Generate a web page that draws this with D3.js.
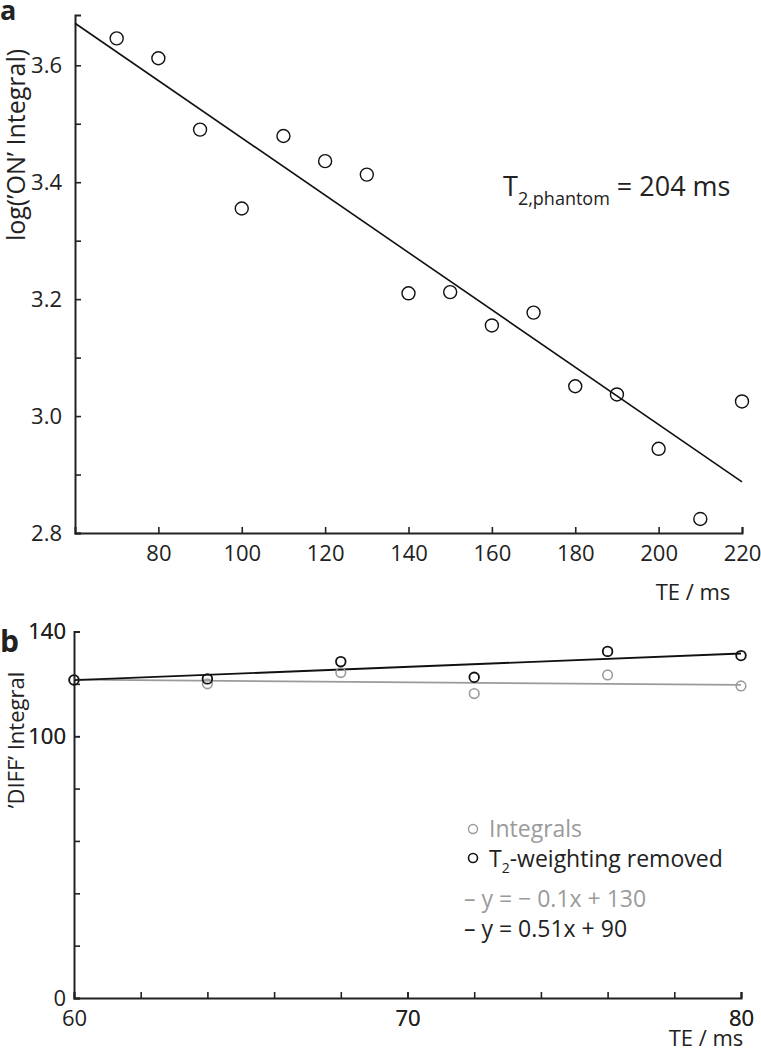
<!DOCTYPE html>
<html>
<head>
<meta charset="utf-8">
<script src="https://cdn.jsdelivr.net/npm/d3@7"></script>
<style>
  body { margin: 0; background: #fff; }
  text { font-family: "Open Sans", sans-serif; fill: #222; }
</style>
</head>
<body>
<svg id="fig" width="761" height="1050"></svg>
<script>

// panel a : log of 'ON' integral vs echo time
var teA = [70, 80, 90, 100, 110, 120, 130, 140, 150, 160, 170, 180, 190, 200, 210, 220]
var logOn = [3.646, 3.612, 3.490, 3.355, 3.479, 3.436, 3.413, 3.210, 3.212, 3.155, 3.177, 3.051, 3.037, 2.944, 2.824, 3.025]
var t2Phantom = 204          // ms, slope of the fit is -1/T2
var logIntercept = 3.966     // value of the fit at TE = 0
var ticksA_x = [80, 100, 120, 140, 160, 180, 200, 220]
var ticksA_y = [2.8, 2.9, 3.0, 3.1, 3.2, 3.3, 3.4, 3.5, 3.6]
var labelsA_y = [2.8, 3.0, 3.2, 3.4, 3.6]

// panel b : 'DIFF' integral vs echo time
var teB = [60, 64, 68, 72, 76, 80]
var diffIntegrals = [121.5, 120.0, 124.3, 116.3, 123.4, 119.2]
var diffCorrected = [121.5, 121.9, 128.5, 122.5, 132.4, 130.8]
var fitIntegrals = [-0.1, 127.6]   // slope, intercept
var fitCorrected = [0.51, 90.8]
var ticksB_x = [62, 64, 66, 68, 70, 72, 74, 76, 78, 80]
var labelsB_x = [60, 70, 80]
var ticksB_y = [20, 40, 60, 80, 100, 120, 140]
var labelsB_y = [0, 100, 140]

var grey = "#9b9b9b"
var dark = "#222"

var svg = d3.select("#fig")

// ---------- panel a ----------
var xA = d3.scaleLinear().domain([60, 220]).range([75, 742])
var yA = d3.scaleLinear().domain([2.8, 3.686]).range([533, 15])

var gA = svg.append("g")

gA.append("g")
    .attr("transform", "translate(0," + yA(2.8) + ")")
    .call(d3.axisBottom(xA).tickValues(ticksA_x).tickSizeInner(-6).tickSizeOuter(-6).tickPadding(12)
        .tickFormat(d3.format("d")))

gA.append("g")
    .attr("transform", "translate(" + xA(60) + ",0)")
    .call(d3.axisLeft(yA).tickValues(ticksA_y).tickSizeInner(-6).tickSizeOuter(-6).tickPadding(13)
        .tickFormat(function(d) {
            return labelsA_y.some(function(v) { return Math.abs(v - d) < 1e-6 }) ? d3.format(".1f")(d) : ""
        }))

// fit line
var fitA = d3.line()
    .x(function(d) { return xA(d) })
    .y(function(d) { return yA(logIntercept - d / t2Phantom) })
gA.append("path")
    .datum([60, 220])
    .attr("d", fitA)
    .attr("fill", "none")
    .attr("stroke", "#111")
    .attr("stroke-width", 1.6)

gA.selectAll(".ptA")
    .data(teA).enter()
    .append("circle")
    .attr("cx", function(d) { return xA(d) })
    .attr("cy", function(d, i) { return yA(logOn[i]) })
    .attr("r", 6.5)
    .attr("fill", "none")
    .attr("stroke", "#111")
    .attr("stroke-width", 1.4)

gA.append("text")
    .attr("transform", "translate(25,145) rotate(-90)")
    .attr("text-anchor", "middle")
    .style("font-size", "25px")
    .text("log(\u2019ON\u2019 Integral)")

gA.append("text")
    .attr("x", 693).attr("y", 600)
    .attr("text-anchor", "middle")
    .style("font-size", "22px")
    .text("TE / ms")

var t2 = gA.append("text")
    .attr("x", 503).attr("y", 196)
    .style("font-size", "27px")
t2.append("tspan").text("T")
t2.append("tspan").attr("dy", 9).style("font-size", "18px").text("2,phantom")
t2.append("tspan").attr("dy", -9).text(" = 204 ms")

gA.append("text")
    .attr("x", 0).attr("y", 20)
    .style("font-size", "27px").style("font-weight", "bold")
    .text("a")

// ---------- panel b ----------
var xB = d3.scaleLinear().domain([60, 80]).range([74, 741])
var yB = d3.scaleLinear().domain([0, 140]).range([998, 631.5])

var gB = svg.append("g")

gB.append("g")
    .attr("transform", "translate(0," + yB(0) + ")")
    .call(d3.axisBottom(xB).tickValues(labelsB_x.concat(ticksB_x)).tickSizeInner(-6).tickSizeOuter(-6).tickPadding(12)
        .tickFormat(function(d) { return labelsB_x.indexOf(d) >= 0 ? d : "" }))

gB.append("g")
    .attr("transform", "translate(" + xB(60) + ",0)")
    .call(d3.axisLeft(yB).tickValues(labelsB_y.concat(ticksB_y)).tickSizeInner(-6).tickSizeOuter(-6).tickPadding(8)
        .tickFormat(function(d) { return labelsB_y.indexOf(d) >= 0 ? d : "" }))

function fitLine(p) {
    return d3.line()
        .x(function(d) { return xB(d) })
        .y(function(d) { return yB(p[0] * d + p[1]) })
}

gB.append("path")
    .datum([60, 80])
    .attr("d", fitLine(fitIntegrals))
    .attr("fill", "none").attr("stroke", grey).attr("stroke-width", 1.6)

gB.append("path")
    .datum([60, 80])
    .attr("d", fitLine(fitCorrected))
    .attr("fill", "none").attr("stroke", "#111").attr("stroke-width", 1.8)

gB.selectAll(".ptGrey")
    .data(teB).enter()
    .append("circle")
    .attr("cx", function(d) { return xB(d) })
    .attr("cy", function(d, i) { return yB(diffIntegrals[i]) })
    .attr("r", 4.8)
    .attr("fill", "none").attr("stroke", grey).attr("stroke-width", 1.6)

gB.selectAll(".ptDark")
    .data(teB).enter()
    .append("circle")
    .attr("cx", function(d) { return xB(d) })
    .attr("cy", function(d, i) { return yB(diffCorrected[i]) })
    .attr("r", 4.8)
    .attr("fill", "none").attr("stroke", "#111").attr("stroke-width", 1.8)

// legend
var lg = gB.append("g")
lg.append("circle").attr("cx", 473).attr("cy", 829).attr("r", 4.5)
    .attr("fill", "none").attr("stroke", grey).attr("stroke-width", 1.4)
lg.append("text").attr("x", 489).attr("y", 837).style("font-size", "23px").style("fill", grey)
    .text("Integrals")
lg.append("circle").attr("cx", 473).attr("cy", 858).attr("r", 4.5)
    .attr("fill", "none").attr("stroke", "#111").attr("stroke-width", 1.6)
var lt = lg.append("text").attr("x", 489).attr("y", 867).style("font-size", "23px")
lt.append("tspan").text("T")
lt.append("tspan").attr("dy", 6).style("font-size", "14px").text("2")
lt.append("tspan").attr("dy", -6).text("-weighting removed")
lg.append("text").attr("x", 464).attr("y", 907).style("font-size", "23px").style("fill", grey)
    .text("\u2013 y = \u2212 " + (-fitIntegrals[0]) + "x + 130")
lg.append("text").attr("x", 464).attr("y", 937).style("font-size", "23px")
    .text("\u2013 y = " + fitCorrected[0] + "x + 90")

gB.append("text")
    .attr("transform", "translate(24,740) rotate(-90)")
    .attr("text-anchor", "middle")
    .style("font-size", "22px")
    .text("\u2019DIFF\u2019 Integral")

gB.append("text")
    .attr("x", 706).attr("y", 1046)
    .attr("text-anchor", "middle")
    .style("font-size", "22px")
    .text("TE / ms")

gB.append("text")
    .attr("x", 0).attr("y", 652)
    .style("font-size", "30px").style("font-weight", "bold")
    .text("b")

// axis styling
svg.selectAll(".domain").attr("stroke", dark).attr("stroke-width", 2)
svg.selectAll(".tick line").attr("stroke", dark).attr("stroke-width", 1.6)
svg.selectAll(".tick text").style("font-size", "22px").style("fill", dark)

</script>
</body>
</html>
